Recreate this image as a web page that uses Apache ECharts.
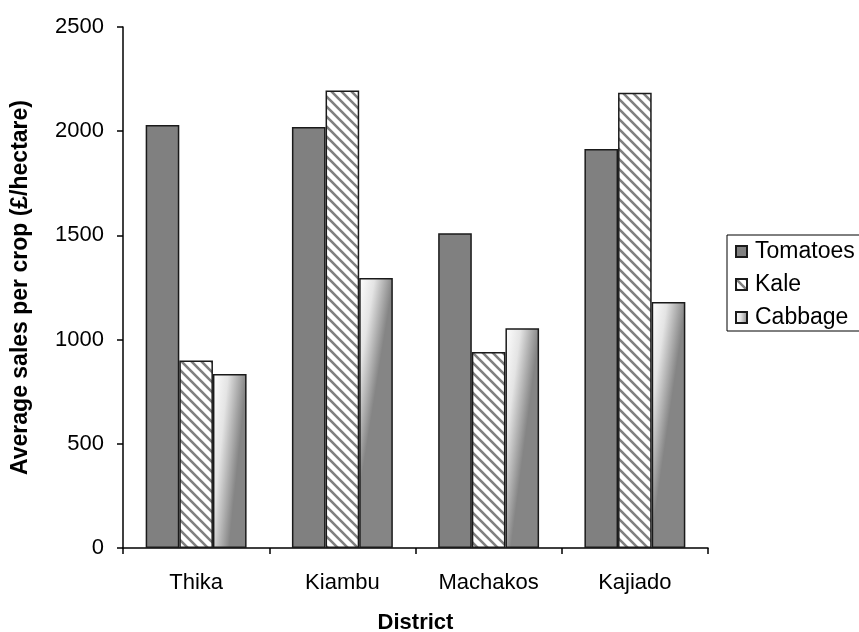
<!DOCTYPE html>
<html>
<head>
<meta charset="utf-8">
<script src="https://cdn.jsdelivr.net/npm/echarts@6/dist/echarts.min.js"></script>
<style>
  html, body { margin: 0; padding: 0; background: #fff; }
  #chart { width: 859px; height: 632px; }
</style>
</head>
<body>
<div id="chart"></div>
<script>
const districts = ["Thika", "Kiambu", "Machakos", "Kajiado"];
const tomatoes = [2030, 2020, 1510, 1915];
const kale = [900, 2195, 940, 2185];
const cabbage = [835, 1295, 1055, 1180];
const yTicks = [0, 500, 1000, 1500, 2000, 2500];

// diagonal hatch for Kale
const hatch = document.createElement("canvas");
hatch.width = 10;
hatch.height = 10;
const hc = hatch.getContext("2d");
hc.fillStyle = "#fff";
hc.fillRect(0, 0, 10, 10);
hc.strokeStyle = "#808080";
hc.lineWidth = 2.6;
hc.beginPath();
for (let k = -10; k <= 10; k += 10) {
  hc.moveTo(k - 2, -2);
  hc.lineTo(k + 12, 12);
}
hc.stroke();

const cabbageFill = new echarts.graphic.LinearGradient(0, 0, 1, 0.02, [
  { offset: 0, color: "#ffffff" },
  { offset: 0.45, color: "#e4e4e4" },
  { offset: 1, color: "#858585" }
]);

const chart = echarts.init(document.getElementById("chart"));
const font = "Liberation Sans, Arial, sans-serif";

chart.setOption({
  animation: false,
  backgroundColor: "#fff",
  textStyle: { fontFamily: font },
  grid: { left: 123, right: 151, top: 27, bottom: 84, containLabel: false, outerBoundsMode: "none" },
  legend: {
    orient: "vertical",
    left: 727,
    top: 235,
    padding: [5, 20, 2, 8],
    itemGap: 10,
    itemWidth: 11,
    itemHeight: 11,
    borderColor: "#000",
    borderWidth: 1,
    borderRadius: 0,
    icon: "rect",
    textStyle: { fontFamily: font, fontSize: 23, color: "#000", padding: [0, 0, 0, 3] },
    data: ["Tomatoes", "Kale", "Cabbage"]
  },
  xAxis: {
    type: "category",
    data: districts,
    name: "District",
    nameLocation: "middle",
    nameGap: 64,
    nameTextStyle: { fontFamily: font, fontSize: 22, fontWeight: "bold", color: "#000" },
    axisLine: { lineStyle: { color: "#000", width: 1.5 } },
    axisTick: { show: true, length: 6, lineStyle: { color: "#000", width: 1.5 } },
    axisLabel: { fontFamily: font, fontSize: 22, color: "#000", margin: 24 }
  },
  yAxis: {
    type: "value",
    min: yTicks[0],
    max: yTicks[yTicks.length - 1],
    interval: 500,
    name: "Average sales per crop (£/hectare)",
    nameLocation: "middle",
    nameGap: 91,
    nameTextStyle: { fontFamily: font, fontSize: 23, fontWeight: "bold", color: "#000" },
    axisLine: { show: true, lineStyle: { color: "#000", width: 1.5 } },
    axisTick: { show: true, length: 6, lineStyle: { color: "#000", width: 1.5 } },
    axisLabel: { fontFamily: font, fontSize: 22, color: "#000", margin: 19, formatter: v => String(v) },
    splitLine: { show: false }
  },
  series: [
    {
      name: "Tomatoes",
      type: "bar",
      data: tomatoes,
      barGap: "0%",
      barCategoryGap: "31%",
      itemStyle: { color: "#808080", borderColor: "#1a1a1a", borderWidth: 1.5 }
    },
    {
      name: "Kale",
      type: "bar",
      data: kale,
      itemStyle: { color: { image: hatch, repeat: "repeat" }, borderColor: "#1a1a1a", borderWidth: 1.5 }
    },
    {
      name: "Cabbage",
      type: "bar",
      data: cabbage,
      itemStyle: { color: cabbageFill, borderColor: "#1a1a1a", borderWidth: 1.5 }
    }
  ]
});
</script>
</body>
</html>
